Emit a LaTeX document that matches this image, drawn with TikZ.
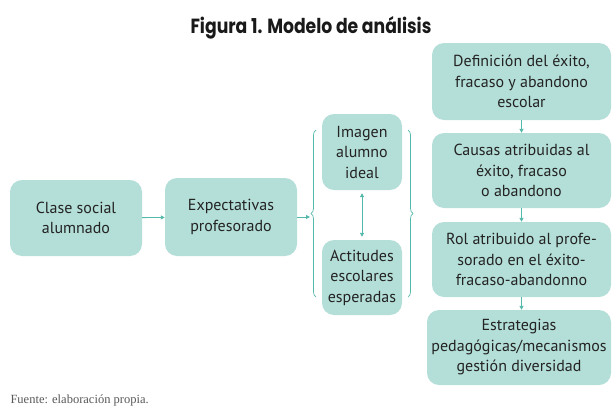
\documentclass[tikz,border=0pt]{standalone}
\usepackage{fontspec}
\setmainfont{PT Sans}
\newfontfamily\titlefont[FakeStretch=0.84]{Poppins}
\newfontfamily\srcfont{Liberation Serif}
\usetikzlibrary{arrows.meta,decorations.pathreplacing}
\definecolor{boxfill}{RGB}{180,223,216}
\definecolor{teal1}{RGB}{84,184,170}
\definecolor{txt}{RGB}{35,35,35}
\tikzset{
  box/.style={fill=boxfill, rounded corners=12pt, align=center, text=txt,
    font=\fontsize{16}{20.5}\selectfont, inner sep=0pt},
  conn/.style={draw=teal1, line width=0.9pt, -{Triangle[length=4pt,width=4pt]}},
  dconn/.style={draw=teal1, line width=0.9pt, {Triangle[length=4pt,width=4pt]}-{Triangle[length=4pt,width=4pt]}},
  bracedeco/.style={draw=teal1, line width=0.7pt, decorate, decoration={brace, amplitude=5pt}}
}
\begin{document}
\begin{tikzpicture}[x=1pt,y=-1pt]
\useasboundingbox (0,0) rectangle (613,407);
\node[anchor=base, font=\titlefont\bfseries\fontsize{20.5}{22}\selectfont, text=black!90] (title) at (311,33) {Figura 1. Modelo de análisis};
\node[box, minimum width=132pt, minimum height=76pt] (clase) at (76,218) {Clase social\\alumnado};
\node[box, minimum width=132pt, minimum height=78pt] (expect) at (231,217) {Expectativas\\profesorado};
\node[box, minimum width=80pt, minimum height=76pt] (imagen) at (362,152) {Imagen\\alumno\\ideal};
\node[box, minimum width=80pt, minimum height=75pt] (actit) at (362,277.5) {Actitudes\\escolares\\esperadas};
\node[box, minimum width=179pt, minimum height=77pt] (defin) at (521.5,81.5) {Definición del éxito,\\fracaso y abandono\\escolar};
\node[box, minimum width=179pt, minimum height=75pt] (causas) at (521.5,170.5) {Causas atribuidas al\\éxito, fracaso\\o abandono};
\node[box, minimum width=179pt, minimum height=75pt] (rol) at (521.5,259.5) {Rol atribuido al profe-\\sorado en el éxito-\\fracaso-abandonno};
\node[box, minimum width=184pt, minimum height=75pt] (estrat) at (519,347.5) {Estrategias\\pedagógicas/mecanismos\\gestión diversidad};
\coordinate (lb1) at (316,297);
\coordinate (lb2) at (316,130);
\coordinate (rb1) at (408,130);
\coordinate (rb2) at (408,297);
\coordinate (ltip) at (310,217);
\draw[bracedeco] (lb1) -- (lb2);
\draw[bracedeco] (rb1) -- (rb2);
\draw[conn] (clase) -- (expect);
\draw[conn] (expect) -- (ltip);
\draw[dconn] ([yshift=-3pt]imagen.south) -- ([yshift=3pt]actit.north);
\draw[conn] (defin.south) -- (causas.north);
\draw[conn] (causas.south) -- (rol.north);
\draw[conn] (rol.south) -- (rol.south |- estrat.north);
\node[anchor=west, font=\srcfont\fontsize{12.5}{13}\selectfont, text=black!65] (src) at (7,400) {Fuente: elaboración propia.};
\end{tikzpicture}
\end{document}
